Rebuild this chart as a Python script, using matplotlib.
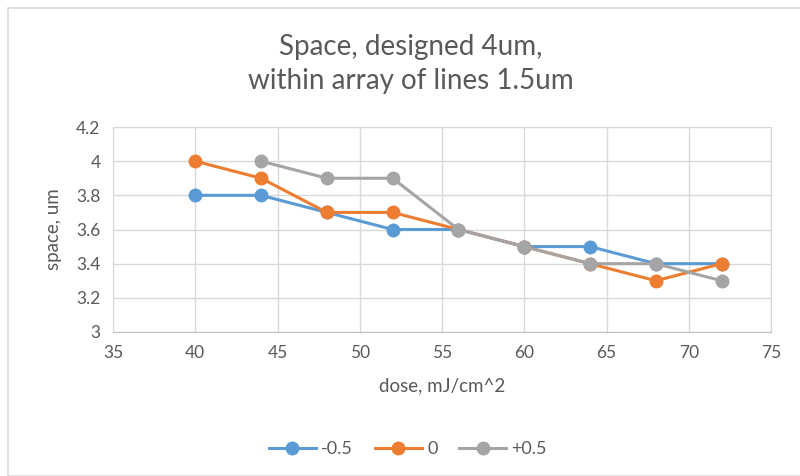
import matplotlib.pyplot as plt
from matplotlib.patches import Rectangle

plt.rcParams['font.family'] = ['Lato', 'DejaVu Sans']

# data
dose_a = [40, 44, 48, 52, 56, 60, 64, 68, 72]
space_m05 = [3.8, 3.8, 3.7, 3.6, 3.6, 3.5, 3.5, 3.4, 3.4]
space_0 = [4.0, 3.9, 3.7, 3.7, 3.6, 3.5, 3.4, 3.3, 3.4]
dose_b = [44, 48, 52, 56, 60, 64, 68, 72]
space_p05 = [4.0, 3.9, 3.9, 3.6, 3.5, 3.4, 3.4, 3.3]
x_ticks = [35, 40, 45, 50, 55, 60, 65, 70, 75]
y_ticks = [3, 3.2, 3.4, 3.6, 3.8, 4, 4.2]

txt = '#595959'
grid = '#d9d9d9'

fig = plt.figure(figsize=(8, 4.76), dpi=100)
# chart border
fig.patches.append(Rectangle((8/800, 0), 1, 1 - 8/476, transform=fig.transFigure,
                             fill=False, edgecolor='#d9d9d9', lw=1.2))
ax = fig.add_axes([113/800, 1 - 332/476, (771 - 113)/800, (332 - 127)/476])

ax.plot(dose_a, space_m05, color='#5B9BD5', lw=2.2, marker='o', ms=9, label='-0.5')
ax.plot(dose_a, space_0, color='#ED7D31', lw=2.2, marker='o', ms=9, label='0')
ax.plot(dose_b, space_p05, color='#A5A5A5', lw=2.2, marker='o', ms=9, label='+0.5')

ax.set_xlim(35, 75)
ax.set_ylim(3, 4.2)
ax.set_xticks(x_ticks)
ax.set_yticks(y_ticks)
ax.set_yticklabels([f'{v:g}' for v in y_ticks])
ax.grid(True, color=grid, lw=1)
ax.set_axisbelow(True)
for s in ax.spines.values():
    s.set_color(grid)
ax.spines['bottom'].set_color('#bfbfbf')
ax.tick_params(length=0, labelsize=12.5, colors=txt, pad=9)

ax.set_xlabel('dose, mJ/cm^2', fontsize=13.5, color=txt, labelpad=12)
ax.set_ylabel('space, um', fontsize=13.5, color=txt, labelpad=10)

fig.text(0.513, 1 - 64/476, 'Space, designed 4um,\nwithin array of lines 1.5um',
         ha='center', va='center', fontsize=20, color=txt, linespacing=1.35)

fig.legend(loc='center', bbox_to_anchor=(0.51, 1 - 449/476), ncol=3, frameon=False,
           fontsize=13, labelcolor=txt, handlelength=2.6, columnspacing=1.2,
           handletextpad=0.3)

fig.savefig('out.png', dpi=100)
